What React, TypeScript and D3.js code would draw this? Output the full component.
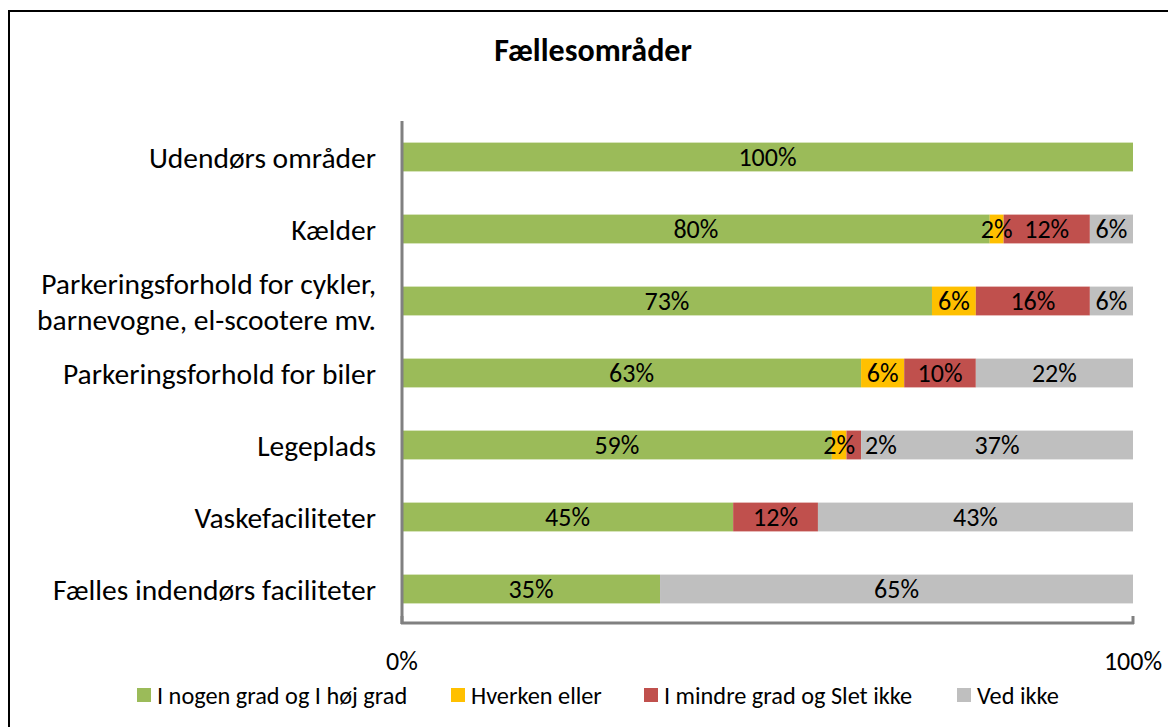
import React, { useEffect, useRef } from "react";
import * as d3 from "d3";

const categories = [
  "Udendørs områder",
  "Kælder",
  "Parkeringsforhold for cykler,\nbarnevogne, el-scootere mv.",
  "Parkeringsforhold for biler",
  "Legeplads",
  "Vaskefaciliteter",
  "Fælles indendørs faciliteter",
];
const seriesNames = [
  "I nogen grad og I høj grad",
  "Hverken eller",
  "I mindre grad og Slet ikke",
  "Ved ikke",
];
const seriesColors = ["#9BBB59", "#FFC000", "#C0504D", "#BFBFBF"];
const highGrade = [100, 80.4, 72.5, 62.8, 58.8, 45.3, 35.3];
const neither = [0, 1.9, 6.0, 5.9, 2.0, 0, 0];
const lowGrade = [0, 11.8, 15.6, 9.8, 2.0, 11.6, 0];
const dontKnow = [0, 5.9, 5.9, 21.5, 37.2, 43.1, 64.7];
const xTicks = [0, 100];
const title = "Fællesområder";

const FONT = "Calibri, Carlito, Lato, 'Open Sans', sans-serif";

export default function App() {
  const ref = useRef<SVGSVGElement>(null);
  useEffect(() => {
    const svg = d3.select(ref.current);
    svg.selectAll("*").remove();
    const W = 1168, H = 727;
    const x = d3.scaleLinear().domain([0, 100]).range([402, 1133]);
    const y = d3.scaleBand().domain(categories).range([121, 625]).paddingInner(0.6).paddingOuter(0.3);

    svg.append("rect").attr("x", 9).attr("y", 11).attr("width", W + 10).attr("height", H + 10)
      .attr("fill", "#fff").attr("stroke", "#000").attr("stroke-width", 2);

    svg.append("text").attr("x", 593).attr("y", 61).attr("text-anchor", "middle")
      .attr("font-family", FONT).attr("font-weight", "bold").attr("font-size", 32).text(title);

    const rows = categories.map((c, i) => ({ c, vals: [highGrade[i], neither[i], lowGrade[i], dontKnow[i]] }));
    const stack = d3.stack<any>().keys([0, 1, 2, 3] as any).value((d: any, k: any) => d.vals[k]);
    const series = stack(rows as any);

    const g = svg.append("g");
    series.forEach((s, si) => {
      g.selectAll(null).data(s).enter().append("rect")
        .attr("x", (d: any) => x(d[0]))
        .attr("y", (d: any) => y(d.data.c)!)
        .attr("width", (d: any) => Math.max(0, x(d[1]) - x(d[0])))
        .attr("height", y.bandwidth())
        .attr("fill", seriesColors[si]);
    });

    // data labels with simple collision avoidance
    const lg = svg.append("g").attr("font-family", FONT).attr("font-size", 26).attr("fill", "#000");
    rows.forEach((r, i) => {
      let prevEnd = -Infinity;
      series.forEach((s) => {
        const d: any = s[i];
        const v = d[1] - d[0];
        if (v <= 0) return;
        const label = Math.round(v) + "%";
        const cx = (x(d[0]) + x(d[1])) / 2;
        const t = lg.append("text").attr("x", cx).attr("y", y(r.c)! + y.bandwidth() / 2)
          .attr("dy", "0.36em").attr("text-anchor", "middle").text(label);
        const bb = (t.node() as SVGTextElement).getBBox();
        if (bb.x < prevEnd + 2) {
          const shift = prevEnd + 10 - bb.x;
          t.attr("x", cx + shift);
          prevEnd = bb.x + shift + bb.width;
        } else {
          prevEnd = bb.x + bb.width;
        }
      });
    });

    // category labels
    const cg = svg.append("g").attr("font-family", FONT).attr("font-size", 29.5).attr("fill", "#000");
    categories.forEach((c) => {
      const lines = c.split("\n");
      const cy = y(c)! + y.bandwidth() / 2;
      const lh = 36;
      lines.forEach((ln, li) => {
        cg.append("text").attr("x", 376).attr("y", cy + (li - (lines.length - 1) / 2) * lh)
          .attr("dy", "0.36em").attr("text-anchor", "end").text(ln);
      });
    });

    // axes
    svg.append("line").attr("x1", 402).attr("x2", 402).attr("y1", 121).attr("y2", 624)
      .attr("stroke", "#808080").attr("stroke-width", 3);
    svg.append("line").attr("x1", 401).attr("x2", 1134).attr("y1", 623).attr("y2", 623)
      .attr("stroke", "#808080").attr("stroke-width", 3);
    xTicks.forEach((t) => {
      svg.append("line").attr("x1", x(t)).attr("x2", x(t)).attr("y1", 616).attr("y2", 624)
        .attr("stroke", "#808080").attr("stroke-width", 3);
      svg.append("text").attr("x", x(t)).attr("y", 661).attr("dy", "0.36em").attr("text-anchor", "middle")
        .attr("font-family", FONT).attr("font-size", 26).text(t + "%");
    });

    // legend
    const legX = [137, 451, 644, 957];
    const leg = svg.append("g").attr("font-family", FONT).attr("font-size", 24.3);
    seriesNames.forEach((n, i) => {
      leg.append("rect").attr("x", legX[i]).attr("y", 688).attr("width", 14).attr("height", 14)
        .attr("fill", seriesColors[i]);
      leg.append("text").attr("x", legX[i] + 20).attr("y", 695).attr("dy", "0.36em").text(n);
    });
  }, []);
  return (
    <svg ref={ref} width={1168} height={727}
      style={{ position: "absolute", left: 0, top: 0, display: "block", background: "#fff" }} />
  );
}
